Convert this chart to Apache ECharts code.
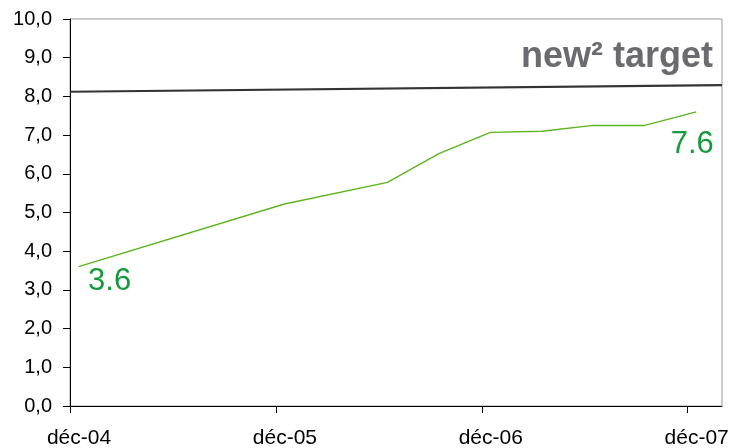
<!DOCTYPE html>
<html>
<head>
<meta charset="utf-8">
<script src="https://cdn.jsdelivr.net/npm/echarts@6/dist/echarts.min.js"></script>
<style>
  html, body { margin: 0; padding: 0; background: #fff; }
  #chart { width: 729px; height: 448px; }
</style>
</head>
<body>
<div id="chart"></div>
<script>
// Index readings (quarter-end values, one annual step at the start)
const periods = ['2004-12', '2005-12', '2006-06', '2006-09', '2006-12', '2007-03', '2007-06', '2007-09', '2007-12'];
const indexValues = [3.6, 5.22, 5.78, 6.52, 7.07, 7.1, 7.25, 7.25, 7.6];

// Target line, from the start of the axis to its end
const targetMonths = [0, 38];
const targetValues = [8.12, 8.29];

// Axis ticks: December of each year
const yTicks = [0, 1, 2, 3, 4, 5, 6, 7, 8, 9, 10];
const xTickYears = ['04', '05', '06', '07'];

const targetText = 'new\u00B2 target';

// months elapsed since 1 Dec 2004, placing each reading mid-month
function monthPos(p) {
  const [y, m] = p.split('-').map(Number);
  return (y - 2004) * 12 + (m - 12) + 0.5;
}

const lastIdx = indexValues.length - 1;
const indexData = indexValues.map((v, i) => {
  const item = { value: [monthPos(periods[i]), v] };
  if (i === 0) {
    item.label = { show: true, offset: [31, 15] };
  } else if (i === lastIdx) {
    item.label = { show: true, offset: [-4, 33] };
  }
  return item;
});

const chart = echarts.init(document.getElementById('chart'), null, { renderer: 'canvas' });
chart.setOption({
  animation: false,
  backgroundColor: '#ffffff',
  textStyle: { fontFamily: 'Liberation Sans, Arial, sans-serif' },
  grid: {
    left: 70, right: 7, top: 19, bottom: 42,
    outerBoundsMode: 'none',
    containLabel: false,
    show: true, borderColor: '#9a9a9a', borderWidth: 1
  },
  xAxis: {
    type: 'value',
    min: 0,
    max: targetMonths[1],
    interval: 12,
    axisLine: { show: true, onZero: false, lineStyle: { color: '#000', width: 1 } },
    axisTick: { show: true, inside: false, length: 7, lineStyle: { color: '#000' } },
    splitLine: { show: false },
    axisLabel: {
      color: '#000',
      fontSize: 21,
      margin: 22,
      padding: [0, 0, 0, 18],
      formatter: v => {
        const k = Math.round(v / 12);
        return xTickYears[k] !== undefined ? 'déc-' + xTickYears[k] : '';
      }
    }
  },
  yAxis: {
    type: 'value',
    min: yTicks[0],
    max: yTicks[yTicks.length - 1],
    interval: 1,
    axisLine: { show: true, lineStyle: { color: '#000', width: 1 } },
    axisTick: { show: true, inside: false, length: 7, lineStyle: { color: '#000' } },
    splitLine: { show: false },
    axisLabel: {
      color: '#000',
      fontSize: 20,
      margin: 18,
      formatter: v => v.toFixed(1).replace('.', ',')
    }
  },
  series: [
    {
      name: 'target',
      type: 'line',
      data: targetMonths.map((m, i) => [m, targetValues[i]]),
      symbol: 'none',
      lineStyle: { color: '#333333', width: 2.2 },
      silent: true,
      z: 3
    },
    {
      name: 'index',
      type: 'line',
      data: indexData,
      symbol: 'circle',
      symbolSize: 1,
      itemStyle: { color: 'rgba(0,0,0,0)' },
      lineStyle: { color: '#5db41e', width: 1.4 },
      label: {
        show: false,
        position: 'inside',
        color: '#149a3c',
        fontSize: 31,
        fontFamily: 'Liberation Sans, Arial, sans-serif',
        formatter: p => p.value[1].toFixed(1)
      },
      z: 4
    }
  ],
  graphic: [
    {
      type: 'text',
      right: 16,
      top: 39,
      style: {
        text: targetText,
        fill: '#6a6a70',
        font: 'bold 36px "Liberation Sans", Arial, sans-serif'
      }
    }
  ]
});
</script>
</body>
</html>
